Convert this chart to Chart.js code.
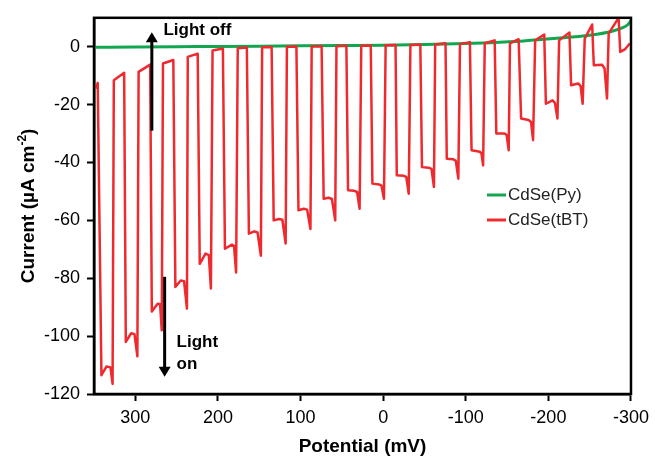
<!DOCTYPE html>
<html>
<head>
<meta charset="utf-8">
<script src="https://cdn.jsdelivr.net/npm/chart.js@4.4.1/dist/chart.umd.min.js"></script>
<style>
  html, body { margin: 0; padding: 0; background: #fff; }
  #wrap { width: 655px; height: 459px; }
</style>
</head>
<body>
<div id="wrap"><canvas id="chopScan" width="655" height="459"></canvas></div>
<script>
// CdSe(Py) - smooth scan, no photoresponse
var pyPotential = [350, 300, 250, 200, 150, 100, 50, 0, -50, -100, -130, -170, -210, -250, -275, -290, -296, -300];
var pyCurrent = [-0.2, -0.1, 0, 0.1, 0.2, 0.3, 0.4, 0.5, 0.75, 1.1, 1.4, 2.0, 2.9, 4.0, 5.2, 6.6, 7.6, 9.0];

// CdSe(tBT) - chopped light scan (mV, uA/cm2)
var tbtPotential = [
    348, 345.5,
    341, 335, 330, 327.5, 326, 313.5,
    311.5, 305, 301, 297.5, 296, 282,
    280, 273, 270, 268, 266.5, 254,
    251.5, 245, 241, 237.5, 236.5, 224.5,
    222, 215, 211, 208.5, 206.5, 194,
    191.5, 183, 180.5, 178, 176, 165,
    162.5, 156, 152, 148, 146.5, 135,
    132.5, 126, 122, 118, 116.5, 105,
    102.5, 96, 92, 88, 86.5, 74.5,
    72, 66, 62, 58, 56.5, 44.5,
    42.5, 35, 31.5, 28.5, 26.5, 15,
    13, 5, 2, -1, -3, -15,
    -16.5, -25, -28, -31, -33, -45,
    -47, -55, -58.5, -61.5, -63, -75.5,
    -77, -85, -88, -91, -93, -105,
    -107, -117, -119, -121, -123, -135,
    -137, -147, -149.5, -152, -153.5, -164,
    -167, -176, -179, -181.5, -184, -195,
    -197, -205, -208, -211, -213, -225.5,
    -227.5, -236, -239, -241.5, -244, -253,
    -255, -265, -268, -271, -273, -285,
    -287, -293, -298.5
];
var tbtCurrent = [
    -14.5, -12.5,
    -113.5, -110.5, -110.8, -116.5, -11.6, -9,
    -102, -99, -99.3, -107, -8.7, -6.2,
    -91.5, -88.8, -89, -98, -5.8, -4.6,
    -83, -80.8, -81, -90.5, -3.5, -2.4,
    -75, -71.5, -72, -83.5, -1.3, -0.6,
    -69.8, -68.4, -68.8, -78, -0.5, -0.3,
    -64.6, -63.8, -64.2, -72.2, -0.2, -0.1,
    -60, -59.5, -59.8, -68, 0, 0.1,
    -56.5, -56, -56.3, -63, 0.1, 0.2,
    -52.5, -52.2, -52.6, -60, 0.2, 0.3,
    -49.6, -49.8, -50.2, -56, 0.3, 0.4,
    -47.3, -47.6, -48, -52.5, 0.5, 0.6,
    -44.4, -44.6, -45, -50.8, 0.6, 0.8,
    -41.6, -41.8, -42.2, -48.5, 0.8, 1.2,
    -38.7, -38.9, -39.4, -45.6, 0.9, 1.6,
    -35.8, -36.3, -36.8, -41, 1.2, 2.2,
    -30, -30, -30.5, -35.8, 1.2, 2.6,
    -24.8, -25.3, -26, -32.3, 2.2, 4.2,
    -19.7, -18.5, -19.5, -24.8, 2.2, 4.9,
    -13.3, -12.7, -13.5, -19.7, 2.8, 7.7,
    -6.4, -6.2, -7.5, -17.9, 4.6, 10,
    -1.8, -0.8, 1.1
];

var xTickValues = [300, 200, 100, 0, -100, -200, -300];
var yTickValues = [0, -20, -40, -60, -80, -100, -120];

var fontFamily = "'Liberation Sans', Arial, Helvetica, sans-serif";
Chart.defaults.font.family = fontFamily;
Chart.defaults.color = '#000';

function toPoints(xs, ys) {
    return xs.map((x, i) => ({ x: x, y: ys[i] }));
}

// light on/off markers, in data units
var lightOff = { x: 280, from: -29, to: 5, textX: 266, textY: 4.0, lines: ['Light off'] };
var lightOn = { x: 264.5, from: -79.5, to: -114, textX: 250, textY: -103.8, lines: ['Light', 'on'] };

function drawArrow(ctx, px, y0, y1) {
    const dir = y1 < y0 ? -1 : 1;
    ctx.beginPath();
    ctx.lineWidth = 3;
    ctx.moveTo(px, y0);
    ctx.lineTo(px, y1 - dir * 8);
    ctx.stroke();
    ctx.beginPath();
    ctx.moveTo(px, y1);
    ctx.lineTo(px - 6, y1 - dir * 10);
    ctx.lineTo(px + 6, y1 - dir * 10);
    ctx.closePath();
    ctx.fill();
}

const decorations = {
    id: 'decorations',
    afterDatasetsDraw(chart) {
        const { ctx, chartArea: a, scales: { x, y } } = chart;
        ctx.save();
        ctx.strokeStyle = '#000';
        ctx.fillStyle = '#000';
        ctx.lineWidth = 2.5;
        ctx.strokeRect(a.left, a.top, a.right - a.left, a.bottom - a.top);

        // arrows + captions
        [lightOff, lightOn].forEach(m => {
            drawArrow(ctx, x.getPixelForValue(m.x), y.getPixelForValue(m.from), y.getPixelForValue(m.to));
            ctx.font = 'bold 17px ' + fontFamily;
            ctx.textAlign = 'left';
            ctx.textBaseline = 'alphabetic';
            m.lines.forEach((t, i) => {
                ctx.fillText(t, x.getPixelForValue(m.textX), y.getPixelForValue(m.textY) + i * 21.5);
            });
        });

        // legend
        ctx.font = '17px ' + fontFamily;
        ctx.textBaseline = 'middle';
        chart.data.datasets.forEach((ds, i) => {
            const ly = 195 + i * 25;
            ctx.strokeStyle = ds.borderColor;
            ctx.lineWidth = 3;
            ctx.beginPath();
            ctx.moveTo(487, ly);
            ctx.lineTo(506, ly);
            ctx.stroke();
            ctx.fillStyle = '#222';
            ctx.fillText(ds.label, 508, ly);
        });
        ctx.restore();
    },
    afterDraw(chart) {
        const { ctx, chartArea: a } = chart;
        ctx.save();
        ctx.fillStyle = '#000';
        ctx.textBaseline = 'alphabetic';

        // x title
        ctx.font = 'bold 19px ' + fontFamily;
        ctx.textAlign = 'center';
        ctx.fillText('Potential (mV)', (a.left + a.right) / 2, 452);

        // y title with superscript
        const main = 'Current (\u00b5A cm';
        const sup = '-2';
        const tail = ')';
        ctx.font = 'bold 19px ' + fontFamily;
        const wMain = ctx.measureText(main).width;
        const wTail = ctx.measureText(tail).width;
        ctx.font = 'bold 12px ' + fontFamily;
        const wSup = ctx.measureText(sup).width;
        const total = wMain + wSup + wTail;
        ctx.translate(34, (a.top + a.bottom) / 2);
        ctx.rotate(-Math.PI / 2);
        ctx.textAlign = 'left';
        let cx = -total / 2;
        ctx.font = 'bold 19px ' + fontFamily;
        ctx.fillText(main, cx, 0);
        cx += wMain;
        ctx.font = 'bold 12px ' + fontFamily;
        ctx.fillText(sup, cx, -8);
        cx += wSup;
        ctx.font = 'bold 19px ' + fontFamily;
        ctx.fillText(tail, cx, 0);
        ctx.restore();
    }
};

new Chart(document.getElementById('chopScan'), {
    type: 'line',
    data: {
        datasets: [
            {
                label: 'CdSe(Py)',
                data: toPoints(pyPotential, pyCurrent),
                borderColor: '#13a650',
                borderWidth: 3,
                cubicInterpolationMode: 'monotone',
                pointRadius: 0,
                order: 1
            },
            {
                label: 'CdSe(tBT)',
                data: toPoints(tbtPotential, tbtCurrent),
                borderColor: '#ee2a2e',
                borderWidth: 2.5,
                borderJoinStyle: 'round',
                tension: 0,
                pointRadius: 0,
                order: 0
            }
        ]
    },
    options: {
        responsive: false,
        animation: false,
        events: [],
        layout: { padding: { top: 16, right: 21, left: 0, bottom: 0 } },
        plugins: {
            legend: { display: false },
            tooltip: { enabled: false }
        },
        scales: {
            x: {
                type: 'linear',
                reverse: true,
                min: -300,
                max: 350,
                afterBuildTicks: s => { s.ticks = xTickValues.map(v => ({ value: v })); },
                afterFit: s => { s.height = 65; },
                ticks: { font: { size: 18 }, color: '#000', padding: 6, maxRotation: 0, autoSkip: false },
                grid: { drawOnChartArea: false, drawTicks: true, tickLength: 7, tickWidth: 2, tickColor: '#000' },
                border: { display: true, color: '#000', width: 2.5 }
            },
            y: {
                type: 'linear',
                min: -120,
                max: 10,
                afterBuildTicks: s => { s.ticks = yTickValues.map(v => ({ value: v })); },
                afterFit: s => { s.width = 94; },
                ticks: { font: { size: 18 }, color: '#000', padding: 7, autoSkip: false },
                grid: { drawOnChartArea: false, drawTicks: true, tickLength: 7, tickWidth: 2, tickColor: '#000' },
                border: { display: true, color: '#000', width: 2.5 }
            }
        }
    },
    plugins: [decorations]
});
</script>
</body>
</html>
